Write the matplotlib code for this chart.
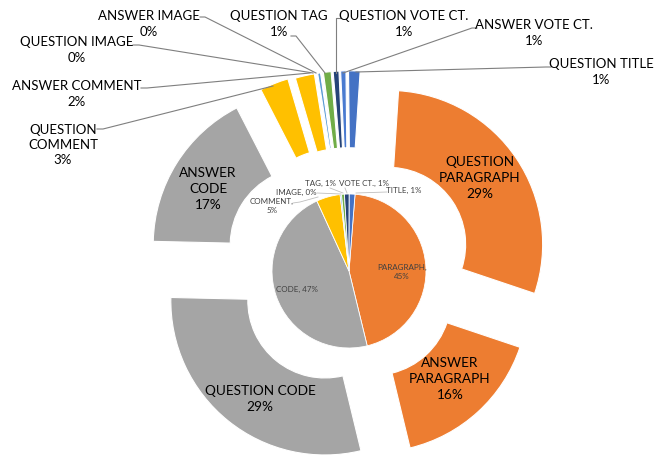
import matplotlib
matplotlib.use("Agg")
import matplotlib.pyplot as plt

# inner pie: content type share
inner_names = ["PARAGRAPH", "CODE", "COMMENT", "IMAGE", "TAG", "VOTE CT.", "TITLE"]
inner_values = [45, 47, 5, 0.3, 0.6, 1.0, 1.2]
inner_colors = ["#ED7D31", "#A5A5A5", "#FFC000", "#5B9BD5", "#70AD47", "#264478", "#4472C4"]

# outer ring: split by question / answer
outer_names = ["QUESTION\nPARAGRAPH", "ANSWER\nPARAGRAPH", "QUESTION CODE", "ANSWER\nCODE",
               "QUESTION\nCOMMENT", "ANSWER COMMENT", "QUESTION IMAGE", "ANSWER IMAGE",
               "QUESTION TAG", "QUESTION VOTE CT.", "ANSWER VOTE CT.", "QUESTION TITLE"]
outer_values = [29, 16, 29, 17, 3, 2, 0.3, 0.1, 0.8, 0.6, 0.55, 1.2]
outer_colors = ["#ED7D31", "#ED7D31", "#A5A5A5", "#A5A5A5", "#FFC000", "#FFC000",
                "#5B9BD5", "#5B9BD5", "#70AD47", "#264478", "#4A7BD0", "#4472C4"]
outer_explode = [0.31, 0.24, 0.25, 0.32, 0.31, 0.30, 0.30, 0.30, 0.30, 0.30, 0.30, 0.30]

plt.rcParams['font.family'] = ['Lato', 'DejaVu Sans']

W, H = 662, 455
CX, CY, R = 349, 271, 154   # pie centre and radius in picture pixels


def px(x, y):
    return (x - CX) / R, (CY - y) / R


fig = plt.figure(figsize=(W / 100, H / 100), dpi=100)
ax = fig.add_axes([0, 0, 1, 1])

ax.pie(outer_values, colors=outer_colors, explode=outer_explode, radius=1.0,
       startangle=90 - 3.7, counterclock=False,
       wedgeprops=dict(width=0.5, edgecolor="white", linewidth=0.8))
ax.pie(inner_values, colors=inner_colors, radius=0.5,
       startangle=90 - 4.5, counterclock=False,
       wedgeprops=dict(edgecolor="white", linewidth=0.6))

ax.set_xlim(-CX / R, (W - CX) / R)
ax.set_ylim(-(H - CY) / R, CY / R)
ax.set_aspect("equal")
ax.axis("off")


def pct(v):
    return f"{v:.0f}%"


# labels inside the big outer wedges
inside_pos = {0: (480, 178), 1: (450, 379), 2: (260, 399), 3: (208, 189)}
for i, (x, y) in inside_pos.items():
    ax.text(*px(x, y), f"{outer_names[i]}\n{pct(outer_values[i])}", ha="center", va="center",
            fontsize=9.8, color="#000000", linespacing=1.38)

# labels with leader lines for the thin outer wedges
# index: (label centre, leader points)
leader = {
    4: ((63, 145), [(97, 129), (103, 129), (273, 86)]),
    5: ((77, 94), [(141, 88), (147, 88), (310, 73)]),
    6: ((77, 50), [(133, 45), (139, 45), (313, 73)]),
    7: ((149, 24), [(200, 17), (205, 17), (316, 73)]),
    8: ((279, 24), [(291, 36), (296, 36), (325, 73)]),
    9: ((404, 24), [(340, 18), (336, 18), (336, 73)]),
    10: ((534, 33), [(477, 28), (472, 28), (343, 73)]),
    11: ((601, 72), [(551, 67), (546, 67), (356, 72)]),
}
for i, ((x, y), pts) in leader.items():
    ax.text(*px(x, y), f"{outer_names[i]}\n{pct(outer_values[i])}", ha="center", va="center",
            fontsize=9.5, color="#000000", linespacing=1.35)
    xs, ys = zip(*[px(a, b) for a, b in pts])
    ax.plot(xs, ys, color="#7F7F7F", lw=0.8)

# inner pie labels
inner_pos = {
    0: ((402, 272), "{n},\n{p}"),
    1: ((297, 289), "{n}, {p}"),
    2: ((272, 206), "{n},\n{p}"),
    3: ((296, 192), "{n}, {p}"),
    4: ((320, 183), "{n}, {p}"),
    5: ((364, 183), "{n}, {p}"),
    6: ((404, 190), "{n}, {p}"),
}
for i, ((x, y), fmt) in inner_pos.items():
    ax.text(*px(x, y), fmt.format(n=inner_names[i], p=pct(inner_values[i])), ha="center",
            va="center", fontsize=5.8, color="#404040", linespacing=1.3)

inner_leaders = [
    [(387, 192), (356, 193)],
    [(345, 188), (347, 193)],
    [(330, 188), (343, 193)],
    [(317, 193), (341, 194)],
    [(293, 203), (300, 202), (318, 197)],
]
for pts in inner_leaders:
    xs, ys = zip(*[px(a, b) for a, b in pts])
    ax.plot(xs, ys, color="#BFBFBF", lw=0.6)

fig.savefig("out.png", dpi=100, facecolor="white")
